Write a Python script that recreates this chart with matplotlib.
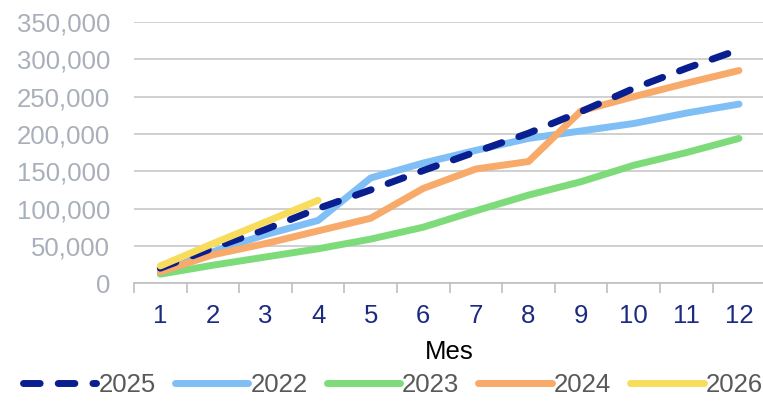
import matplotlib.pyplot as plt
from matplotlib.ticker import FuncFormatter, FixedLocator

plt.rcParams['font.family'] = ['Liberation Sans', 'DejaVu Sans']

meses = list(range(1, 13))
v2025 = [20000, 47000, 72000, 100000, 125000, 151000, 176000, 201000, 230000, 261000, 288000, 313000]
v2022 = [18000, 42000, 65000, 84000, 141000, 161000, 178000, 194000, 204000, 214000, 228000, 240000]
v2023 = [12000, 24000, 35000, 46000, 59000, 75000, 97000, 118000, 136000, 158000, 175000, 194000]
v2024 = [15000, 38000, 53000, 70000, 87000, 127000, 153000, 163000, 231000, 250000, 268000, 285000]
v2026 = [23000, 53000, 82000, 111000]

fs = 18.5

fig = plt.figure(figsize=(7.63, 4.01), dpi=100)
ax = fig.add_axes([0.1756, 0.294, 0.8274, 0.651])

lw = 5
ax.plot(meses, v2025, color='#0A1F8F', lw=lw, ls=(0, (2.4, 2.6)), dash_capstyle='round', label='2025', zorder=5)
ax.plot(meses, v2022, color='#7FBFF5', lw=lw, solid_capstyle='round', label='2022', zorder=3)
ax.plot(meses, v2023, color='#7DDB7A', lw=lw, solid_capstyle='round', label='2023', zorder=3)
ax.plot(meses, v2024, color='#F7AA6A', lw=lw, solid_capstyle='round', label='2024', zorder=4)
ax.plot(meses[:len(v2026)], v2026, color='#F8DC5C', lw=lw, solid_capstyle='round', label='2026', zorder=6)

ax.set_xlim(0.5, 12.5)
ax.set_ylim(0, 350000)
ax.set_yticks(range(0, 350001, 50000))
ax.yaxis.set_major_formatter(FuncFormatter(lambda v, p: f'{int(v):,}'))
ax.grid(axis='y', color='#C8C8C8', lw=1.2)
ax.set_axisbelow(True)

ax.set_xticks(meses)
ax.xaxis.set_minor_locator(FixedLocator([x + 0.5 for x in range(0, 13)]))
ax.tick_params(axis='x', which='major', length=0, pad=15, labelsize=fs, labelcolor='#1C2A80')
ax.tick_params(axis='x', which='minor', length=7, color='#BFBFBF', width=1.2)
ax.tick_params(axis='y', length=0, pad=17, labelsize=fs, labelcolor='#A9AFBA')

for s in ['top', 'right', 'left']:
    ax.spines[s].set_visible(False)
ax.spines['bottom'].set_color('#BFBFBF')
ax.spines['bottom'].set_linewidth(1.2)

ax.set_xlabel('Mes', fontsize=fs, color='black', labelpad=9)

leg = fig.legend(loc='lower center', bbox_to_anchor=(0.515, -0.035), ncol=5, frameon=False,
                 fontsize=fs, handlelength=2.85, handletextpad=0.08, columnspacing=0.75,
                 borderpad=0.2)
for t in leg.get_texts():
    t.set_color('#595959')

fig.savefig('out.png', dpi=100)
